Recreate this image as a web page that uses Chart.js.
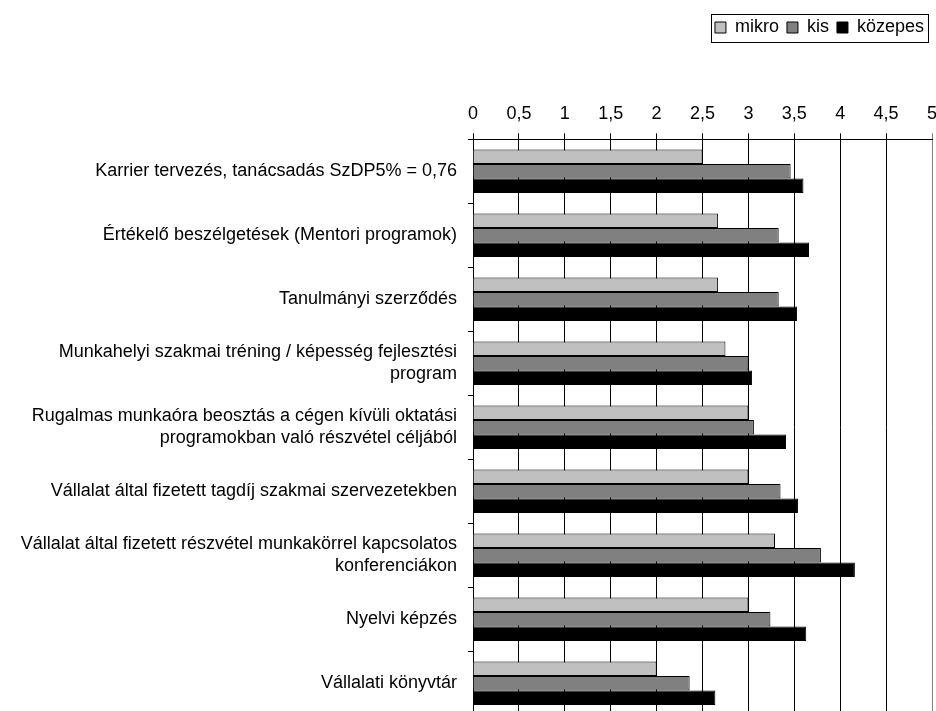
<!DOCTYPE html>
<html>
<head>
<meta charset="utf-8">
<script src="https://cdn.jsdelivr.net/npm/chart.js@4.4.1/dist/chart.umd.min.js"></script>
<style>
  html, body { margin: 0; padding: 0; background: #fff; overflow: hidden; }
  canvas { display: block; }
</style>
</head>
<body>
<canvas id="kepzesChart" width="936" height="720"></canvas>
<script>
// Képzési formák átlagos értékelése vállalatméret szerint
const categories = [
  'Karrier tervezés, tanácsadás SzDP5% = 0,76',
  'Értékelő beszélgetések (Mentori programok)',
  'Tanulmányi szerződés',
  ['Munkahelyi szakmai tréning / képesség fejlesztési', 'program'],
  ['Rugalmas munkaóra beosztás a cégen kívüli oktatási', 'programokban való részvétel céljából'],
  'Vállalat által fizetett tagdíj szakmai szervezetekben',
  ['Vállalat által fizetett részvétel munkakörrel kapcsolatos', 'konferenciákon'],
  'Nyelvi képzés',
  'Vállalati könyvtár'
];
const mikro   = [2.50, 2.67, 2.67, 2.75, 3.00, 3.00, 3.29, 3.00, 2.00];
const kis     = [3.46, 3.33, 3.33, 3.00, 3.06, 3.35, 3.79, 3.24, 2.36];
const kozepes = [3.60, 3.66, 3.53, 3.04, 3.41, 3.54, 4.16, 3.63, 2.64];
const xTickLabels = ['0', '0,5', '1', '1,5', '2', '2,5', '3', '3,5', '4', '4,5', '5'];

Chart.defaults.font.family = '"Liberation Sans", Arial, sans-serif';
Chart.defaults.font.size = 18;
Chart.defaults.color = '#000';

// fixed legend height so the axis sits where it should
const legendHeight = {
  id: 'legendHeight',
  beforeInit(chart) {
    const origFit = chart.legend.fit;
    chart.legend.fit = function () {
      origFit.bind(chart.legend)();
      this.height = 38.5;
    };
  }
};

// thin frame around the legend entries
const legendFrame = {
  id: 'legendFrame',
  afterDraw(chart) {
    const boxes = chart.legend.legendHitBoxes;
    if (!boxes || !boxes.length) return;
    const left = Math.min(...boxes.map(b => b.left)) - 4;
    const right = Math.max(...boxes.map(b => b.left + b.width)) + 4;
    const top = Math.min(...boxes.map(b => b.top)) - 5;
    const bottom = Math.max(...boxes.map(b => b.top + b.height)) + 5;
    const ctx = chart.ctx;
    ctx.save();
    ctx.strokeStyle = '#000';
    ctx.lineWidth = 1;
    ctx.strokeRect(Math.round(left) + 0.5, Math.round(top) + 0.5, Math.round(right - left), Math.round(bottom - top));
    ctx.restore();
  }
};

const ctx = document.getElementById('kepzesChart').getContext('2d');
const kepzesChart = new Chart(ctx, {
  type: 'bar',
  data: {
    labels: categories,
    datasets: [
      { label: 'mikro', data: mikro, backgroundColor: '#c0c0c0', borderColor: '#000', borderWidth: 1 },
      { label: 'kis', data: kis, backgroundColor: '#808080', borderColor: '#000', borderWidth: 1 },
      { label: 'közepes', data: kozepes, backgroundColor: '#000000', borderColor: '#000', borderWidth: 1 }
    ]
  },
  options: {
    indexAxis: 'y',
    responsive: false,
    animation: false,
    layout: { padding: { top: 10.5, right: 4, bottom: 4.7, left: 0 } },
    datasets: {
      bar: { categoryPercentage: 0.68, barPercentage: 1.0 }
    },
    scales: {
      x: {
        position: 'top',
        min: 0,
        max: 5,
        ticks: {
          stepSize: 0.5,
          padding: 8,
          callback: (value, index) => xTickLabels[index]
        },
        grid: {
          color: ctx => (ctx.tick && ctx.tick.value === 5 ? '#808080' : '#000'),
          lineWidth: 1,
          tickLength: 6
        },
        border: { color: '#000', width: 1 },
        afterFit(scale) {
          scale.height = 90.3;
          scale.paddingLeft = 0;
          scale.paddingRight = 0;
        }
      },
      y: {
        ticks: { padding: 11, autoSkip: false, font: { lineHeight: 1.22 } },
        grid: {
          drawOnChartArea: false,
          color: '#000',
          tickLength: 5
        },
        border: { color: '#000', width: 1 },
        afterFit(scale) {
          scale.width = 473;
          scale.paddingTop = 0;
          scale.paddingBottom = 0;
        }
      }
    },
    plugins: {
      legend: {
        position: 'top',
        align: 'end',
        labels: {
          boxWidth: 11,
          boxHeight: 11,
          padding: 8,
          color: '#000'
        }
      },
      tooltip: { enabled: false }
    }
  },
  plugins: [legendHeight, legendFrame]
});
</script>
</body>
</html>
